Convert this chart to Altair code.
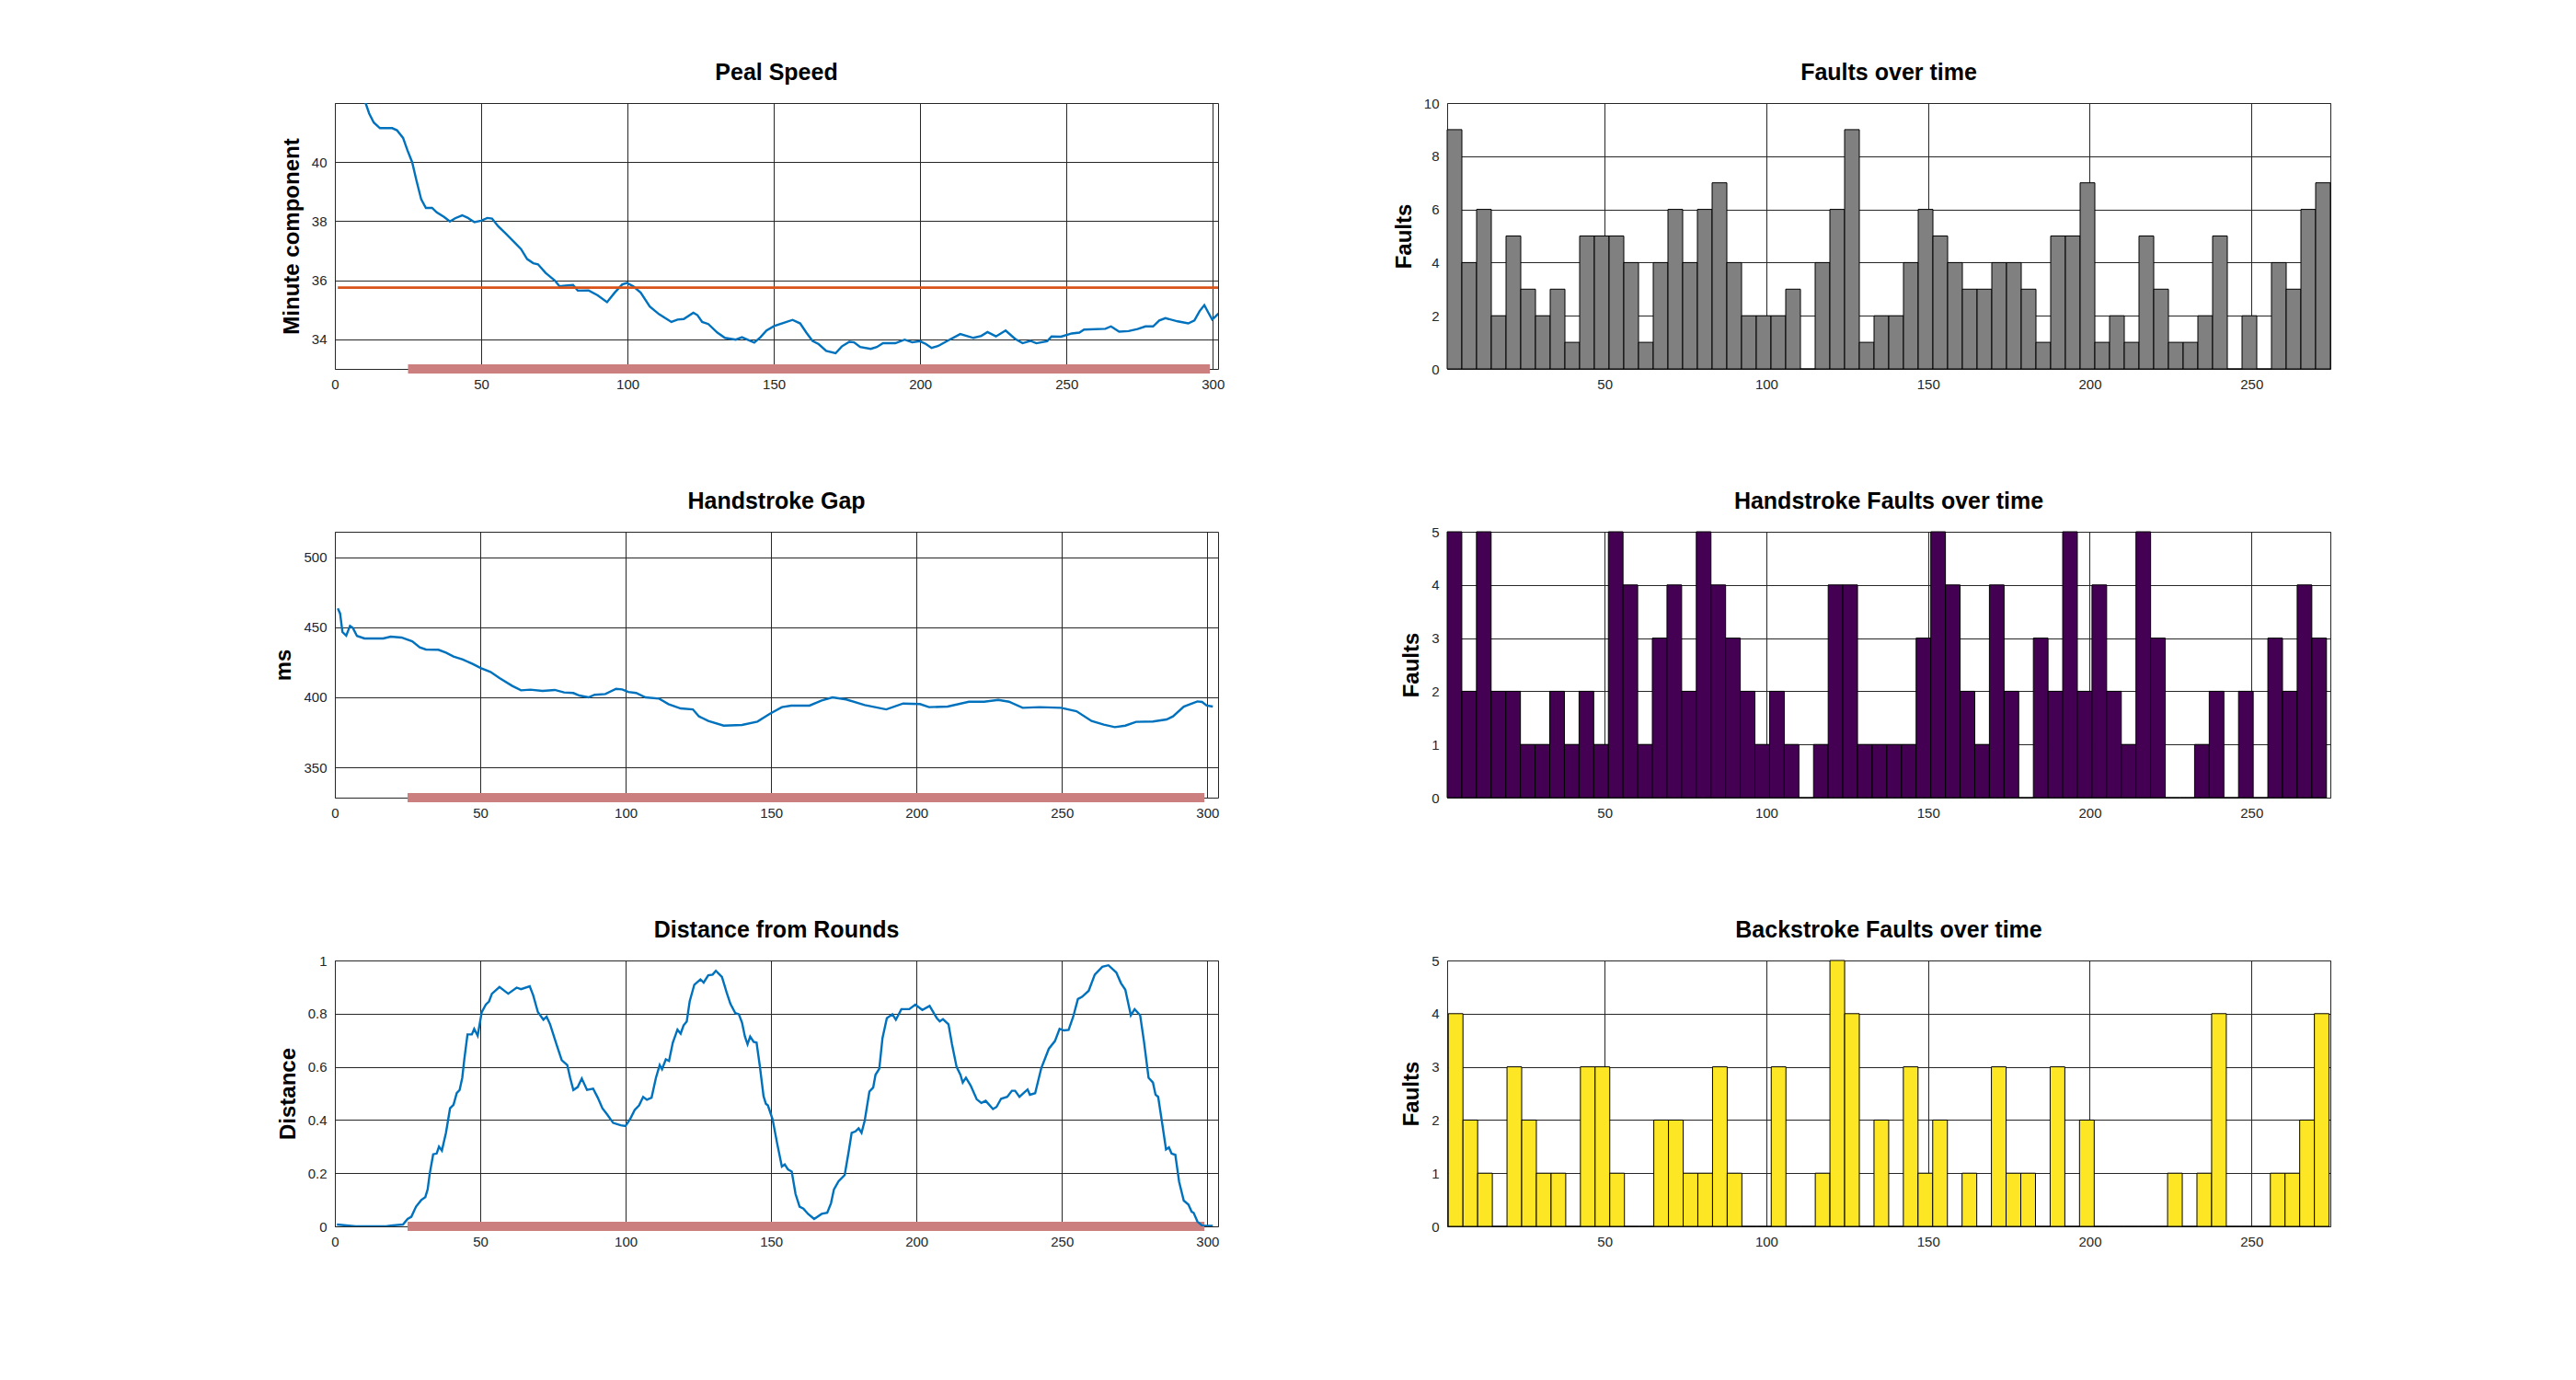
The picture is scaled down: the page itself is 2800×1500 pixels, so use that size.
import altair as alt
import pandas as pd
import numpy as np

# ---------------- data ----------------
peal_points = [
    (2, 43.8), (6, 42.9), (10.5, 42.0), (11.7, 41.65), (13.3, 41.34), (15.4, 41.15), (19.6, 41.15),
    (21.2, 41.08), (23.3, 40.82), (24.8, 40.4), (26.4, 40.0), (27.9, 39.37), (29.5, 38.74), (31.1, 38.45),
    (33.2, 38.45), (34.8, 38.3), (37.4, 38.14), (39.3, 37.99), (41.1, 38.1), (43.5, 38.2), (45.3, 38.12),
    (47.7, 37.97), (50.0, 38.02), (52.1, 38.11), (53.7, 38.09), (55.8, 37.83), (58.4, 37.58), (61.5, 37.27),
    (63.6, 37.06), (65.7, 36.72), (67.8, 36.58), (69.4, 36.54), (72.0, 36.25), (75.2, 35.99), (76.7, 35.8),
    (78.8, 35.82), (81.4, 35.84), (83.0, 35.65), (86.7, 35.66), (89.8, 35.49), (93.0, 35.26), (95.6, 35.58),
    (98.2, 35.86), (99.8, 35.91), (101.9, 35.8), (104.5, 35.58), (107.6, 35.11), (110.8, 34.85), (115.0, 34.59),
    (117.1, 34.67), (119.2, 34.69), (122.5, 34.9), (123.9, 34.82), (125.5, 34.59), (127.6, 34.52), (130.7, 34.23),
    (133.3, 34.05), (137.0, 33.99), (139.1, 34.07), (143.3, 33.89), (145.4, 34.07), (147.5, 34.3), (150.1, 34.45),
    (152.7, 34.54), (156.4, 34.66), (159.0, 34.54), (161.1, 34.23), (163.2, 33.95), (165.3, 33.84), (167.9, 33.61),
    (171.1, 33.53), (173.2, 33.76), (175.8, 33.92), (177.4, 33.9), (179.5, 33.74), (183.1, 33.68), (185.2, 33.74),
    (187.3, 33.87), (191.5, 33.87), (194.7, 33.99), (197.3, 33.9), (199.9, 33.94), (202.0, 33.84), (203.9, 33.71),
    (206.2, 33.78), (209.3, 33.95), (213.7, 34.18), (218.2, 34.05), (220.9, 34.12), (223.0, 34.25), (225.9, 34.1),
    (229.2, 34.3), (232.4, 34.02), (235.0, 33.87), (237.6, 33.95), (239.7, 33.87), (243.4, 33.94), (244.9, 34.1),
    (248.1, 34.09), (251.8, 34.2), (254.4, 34.23), (256.0, 34.33), (263.3, 34.36), (265.2, 34.44), (268.0, 34.26),
    (271.2, 34.28), (274.3, 34.35), (277.0, 34.44), (279.6, 34.44), (281.7, 34.64), (283.8, 34.72), (288.0, 34.61),
    (291.6, 34.54), (293.7, 34.64), (295.5, 34.96), (297.1, 35.16), (298.5, 34.9), (299.8, 34.67), (302.0, 34.88),
]

gap_points = [
    (1.0, 463.6), (1.8, 459.9), (2.6, 446.7), (3.9, 444.1), (5.2, 451.1), (6.2, 449.6), (7.6, 443.9),
    (10.2, 442.1), (16.6, 442.1), (19.2, 443.4), (22.9, 442.8), (26.6, 440.1), (29.2, 435.7), (31.3, 434.2),
    (35.6, 434.0), (38.2, 432.0), (40.8, 429.2), (44.0, 427.0), (47.2, 424.1), (50.3, 420.8), (53.5, 418.2),
    (56.6, 413.8), (60.9, 408.3), (64.0, 405.0), (67.2, 405.5), (71.4, 404.6), (75.6, 405.3), (78.8, 403.5),
    (82.0, 403.1), (84.1, 401.3), (87.2, 400.0), (89.3, 401.8), (93.0, 402.4), (96.7, 406.1), (98.8, 405.7),
    (100.9, 403.9), (103.6, 403.1), (106.8, 400.0), (111.5, 399.1), (114.7, 395.2), (118.9, 392.1), (123.1, 391.4),
    (125.2, 386.4), (128.4, 383.1), (133.7, 379.8), (140.0, 380.3), (145.3, 382.7), (149.5, 388.2), (153.7, 393.0),
    (156.9, 394.1), (163.2, 394.1), (167.4, 397.8), (171.1, 400.0), (175.8, 398.5), (182.2, 394.5), (189.6, 391.4),
    (195.4, 395.6), (201.2, 395.2), (204.3, 393.0), (210.7, 393.4), (218.0, 396.9), (223.3, 396.9), (228.1, 398.2),
    (231.8, 396.9), (236.5, 392.5), (242.3, 393.0), (249.7, 392.5), (255.0, 390.1), (260.2, 383.1), (264.4, 380.5),
    (268.2, 378.7), (271.8, 379.8), (275.5, 382.5), (281.3, 382.7), (286.0, 384.2), (288.2, 386.4), (291.9, 393.4),
    (296.6, 397.1), (298.2, 396.7), (299.8, 394.1), (301.9, 393.4),
]

dist_points = [
    (0.7, 0.007), (2.3, 0.005), (7.1, 0.0), (17.6, 0.0), (19.2, 0.003), (23.4, 0.007), (25.0, 0.028),
    (26.3, 0.036), (27.9, 0.074), (29.7, 0.099), (31.1, 0.11), (31.9, 0.139), (32.6, 0.197), (33.8, 0.271),
    (35.0, 0.274), (35.8, 0.3), (36.8, 0.285), (38.2, 0.352), (39.6, 0.444), (40.8, 0.457), (41.9, 0.501),
    (42.9, 0.513), (43.8, 0.559), (44.5, 0.628), (45.6, 0.722), (47.1, 0.722), (47.9, 0.743), (49.1, 0.717),
    (50.5, 0.806), (51.9, 0.834), (53.0, 0.846), (54.0, 0.875), (56.6, 0.9), (59.6, 0.875), (62.5, 0.898),
    (64.0, 0.892), (67.0, 0.903), (68.2, 0.869), (69.8, 0.806), (71.7, 0.777), (72.8, 0.789), (74.0, 0.76),
    (76.2, 0.685), (78.0, 0.625), (79.9, 0.607), (80.9, 0.559), (82.0, 0.513), (83.5, 0.524), (84.9, 0.556),
    (86.7, 0.513), (88.8, 0.518), (90.4, 0.484), (92.0, 0.444), (93.6, 0.421), (95.7, 0.389), (98.3, 0.38),
    (99.9, 0.377), (101.5, 0.403), (103.1, 0.438), (104.6, 0.455), (106.0, 0.487), (107.3, 0.476), (108.9, 0.484),
    (110.4, 0.559), (111.7, 0.607), (112.5, 0.591), (113.8, 0.628), (114.9, 0.622), (116.2, 0.691), (117.8, 0.74),
    (118.9, 0.725), (119.9, 0.756), (121.0, 0.771), (122.0, 0.846), (123.6, 0.909), (125.7, 0.929), (126.8, 0.917),
    (128.4, 0.944), (129.9, 0.947), (131.0, 0.961), (133.1, 0.938), (134.7, 0.88), (136.0, 0.837), (137.7, 0.802),
    (138.9, 0.798), (140.0, 0.766), (141.0, 0.714), (141.9, 0.685), (142.8, 0.714), (144.0, 0.694), (145.0, 0.691),
    (146.1, 0.605), (147.4, 0.49), (148.2, 0.461), (148.9, 0.455), (150.5, 0.403), (152.1, 0.311), (153.7, 0.225),
    (154.7, 0.233), (155.8, 0.214), (157.1, 0.206), (158.4, 0.122), (159.8, 0.074), (161.1, 0.067), (162.7, 0.047),
    (164.8, 0.028), (167.4, 0.047), (169.3, 0.051), (170.6, 0.087), (171.6, 0.139), (173.2, 0.17), (175.3, 0.193),
    (176.7, 0.283), (177.7, 0.352), (179.0, 0.357), (180.1, 0.369), (181.1, 0.352), (182.2, 0.398), (183.8, 0.507),
    (185.1, 0.522), (185.9, 0.57), (187.2, 0.593), (188.3, 0.708), (189.8, 0.783), (191.7, 0.798), (192.9, 0.777),
    (194.8, 0.817), (197.5, 0.817), (199.6, 0.834), (202.0, 0.814), (204.5, 0.829), (207.0, 0.783), (208.0, 0.771),
    (209.1, 0.779), (211.0, 0.76), (212.2, 0.685), (213.8, 0.599), (215.1, 0.57), (215.9, 0.541), (217.0, 0.559),
    (218.6, 0.53), (220.7, 0.478), (222.3, 0.464), (223.8, 0.472), (226.3, 0.441), (227.5, 0.449), (229.1, 0.48),
    (231.2, 0.487), (232.8, 0.51), (233.9, 0.51), (235.4, 0.487), (238.2, 0.515), (239.0, 0.495), (240.8, 0.501),
    (242.9, 0.595), (245.5, 0.668), (247.6, 0.697), (249.2, 0.743), (250.7, 0.737), (252.3, 0.739), (253.9, 0.789),
    (255.5, 0.855), (256.9, 0.863), (259.2, 0.886), (261.3, 0.947), (263.9, 0.976), (266.0, 0.982), (268.7, 0.955),
    (270.3, 0.915), (271.8, 0.89), (273.7, 0.794), (275.0, 0.817), (276.9, 0.794), (278.2, 0.697), (279.8, 0.559),
    (281.3, 0.541), (282.2, 0.495), (283.1, 0.487), (284.5, 0.386), (285.8, 0.289), (286.8, 0.297), (287.7, 0.274),
    (289.0, 0.269), (290.3, 0.168), (291.9, 0.097), (293.5, 0.082), (294.6, 0.055), (295.3, 0.051), (296.6, 0.018),
    (298.2, 0.003), (301.9, 0.002),
]

faults_counts = [9, 4, 6, 2, 5, 3, 2, 3, 1, 5, 5, 5, 4, 1, 4, 6, 4, 6, 7, 4,
                 2, 2, 2, 3, 0, 4, 6, 9, 1, 2, 2, 4, 6, 5, 4, 3, 3, 4, 4, 3,
                 1, 5, 5, 7, 1, 2, 1, 5, 3, 1, 1, 2, 5, 0, 2, 0, 4, 3, 6, 7]
hand_counts = [5, 2, 5, 2, 2, 1, 1, 2, 1, 2, 1, 5, 4, 1, 3, 4, 2, 5, 4, 3,
               2, 1, 2, 1, 0, 1, 4, 4, 1, 1, 1, 1, 3, 5, 4, 2, 1, 4, 2, 0,
               3, 2, 5, 2, 4, 2, 1, 5, 3, 0, 0, 1, 2, 0, 2, 0, 3, 2, 4, 3]
back_counts = [4, 2, 1, 0, 3, 2, 1, 1, 0, 3, 3, 1, 0, 0, 2, 2, 1, 1, 3, 1,
               0, 0, 3, 0, 0, 1, 5, 4, 0, 2, 0, 3, 1, 2, 0, 1, 0, 3, 1, 1,
               0, 3, 0, 2, 0, 0, 0, 0, 0, 1, 0, 1, 4, 0, 0, 0, 1, 1, 2, 4]

faults_bin_range = [1.3, 274.4]
hand_bin_range = [1.3, 273.2]
back_bin_range = [1.65, 274.0]

peal_target = [{"x": 1.0, "x2": 301.8, "y": 35.75}]
touch_range = [25, 299]

peal_x_domain = [0, 301.8]
peal_y_domain = [33, 42]
gap_x_domain = [0, 303.7]
gap_y_domain = [328.3, 518.4]
dist_x_domain = [0, 303.7]
dist_y_domain = [0, 1]
hist_x_domain = [1.3, 274.4]

line_x_ticks = [0, 50, 100, 150, 200, 250, 300]
hist_x_ticks = [50, 100, 150, 200, 250]
peal_y_ticks = [34, 36, 38, 40]
gap_y_ticks = [350, 400, 450, 500]
dist_y_ticks = [0, 0.2, 0.4, 0.6, 0.8, 1]
faults_y_ticks = [0, 2, 4, 6, 8, 10]
hs_y_ticks = [0, 1, 2, 3, 4, 5]

FONT = "Liberation Sans"
W, H = 960, 289
FMT = "~f"


def make_title(text, offset):
    return alt.TitleParams(text=text, font=FONT, fontSize=25, fontWeight="bold", color="#000000",
                           frame="group", anchor="middle", baseline="alphabetic", offset=offset)


def line_panel(points, title, ytitle, xdom, ydom, yticks, title_offset, extra=None):
    df = pd.DataFrame(points, columns=["x", "y"])
    xenc = alt.X("x:Q", scale=alt.Scale(domain=xdom, nice=False, zero=False),
                 axis=alt.Axis(values=line_x_ticks, title=None, format=FMT))
    yenc = alt.Y("y:Q", scale=alt.Scale(domain=ydom, nice=False, zero=False),
                 axis=alt.Axis(values=yticks, title=ytitle, format=FMT))
    band_df = pd.DataFrame([{"x": touch_range[0], "x2": touch_range[1], "y": ydom[0]}])
    band = alt.Chart(band_df).mark_rule(color="#cc7f7f", strokeWidth=10).encode(
        x=xenc, x2="x2:Q", y=yenc)
    line = alt.Chart(df).mark_line(color="#0072bd", strokeWidth=2.4, clip=True).encode(
        x=xenc, y=yenc, order="x:Q")
    layers = [band, line]
    if extra is not None:
        tdf = pd.DataFrame(extra)
        layers.append(alt.Chart(tdf).mark_rule(color="#d95319", strokeWidth=2.8, clip=True).encode(
            x=xenc, x2="x2:Q", y=yenc))
    return alt.layer(*layers).properties(width=W, height=H, title=make_title(title, title_offset))


def hist_panel(counts, bin_range, title, color, ydom, yticks):
    edges = np.linspace(bin_range[0], bin_range[1], len(counts) + 1)
    df = pd.DataFrame({"x": edges[:-1], "x2": edges[1:], "count": counts})
    chart = alt.Chart(df).mark_rect(color=color, stroke="#000000", strokeWidth=1).encode(
        x=alt.X("x:Q", scale=alt.Scale(domain=hist_x_domain, nice=False, zero=False),
                axis=alt.Axis(values=hist_x_ticks, title=None, format=FMT)),
        x2="x2:Q",
        y=alt.Y("count:Q", scale=alt.Scale(domain=ydom, nice=False),
                axis=alt.Axis(values=yticks, title="Faults", format=FMT)),
        y2=alt.datum(0),
    )
    return chart.properties(width=W, height=H, title=make_title(title, -6.5))


peal = line_panel(peal_points, "Peal Speed", "Minute component", peal_x_domain, peal_y_domain,
                  peal_y_ticks, 0.5, extra=peal_target)
gap = line_panel(gap_points, "Handstroke Gap", "ms", gap_x_domain, gap_y_domain, gap_y_ticks, 0.5)
dist = line_panel(dist_points, "Distance from Rounds", "Distance", dist_x_domain, dist_y_domain,
                  dist_y_ticks, -6.5)

faults = hist_panel(faults_counts, faults_bin_range, "Faults over time", "#808080", [0, 10], faults_y_ticks)
hand = hist_panel(hand_counts, hand_bin_range, "Handstroke Faults over time", "#440154", [0, 5], hs_y_ticks)
back = hist_panel(back_counts, back_bin_range, "Backstroke Faults over time", "#fde725", [0, 5], hs_y_ticks)

chart = alt.concat(
    peal, faults, gap, hand, dist, back,
    columns=2, bounds="flush",
    spacing=alt.RowColnumber(row=177, column=249),
).properties(
    padding={"left": 288, "top": 58, "right": 20, "bottom": 20},
    background="#ffffff",
).configure_axis(
    labelFont=FONT, labelFontSize=15, labelColor="#262626",
    titleFont=FONT, titleFontSize=24, titleFontWeight="bold", titleColor="#000000",
    ticks=False, domain=False, grid=True, gridColor="#262626", gridWidth=1, gridOpacity=1,
    labelPadding=9, titlePadding=9, labelFlush=False, labelOverlap=False,
).configure_view(
    stroke="#262626", strokeWidth=1,
)

chart.save("out.html", embed_options={"renderer": "svg", "actions": False})
